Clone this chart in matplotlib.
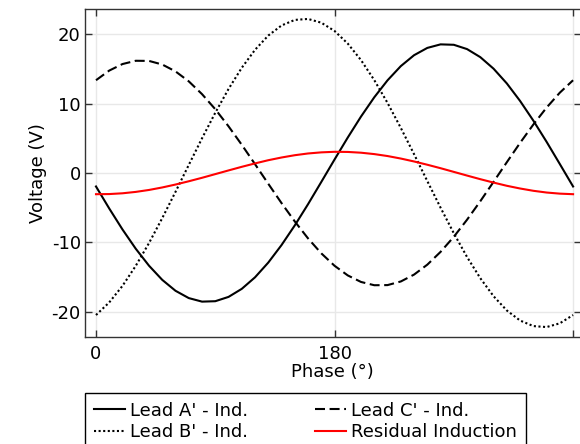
import matplotlib
matplotlib.use("Agg")
import matplotlib.pyplot as plt

plt.rcParams["axes.unicode_minus"] = False

# phase in degrees, read every 10 deg off the reference
phase = list(range(0, 361, 10))

lead_a = [-1.94, -5.11, -8.13, -10.90, -13.34, -15.38, -16.95, -18.00, -18.51,
          -18.45, -17.83, -16.67, -15.01, -12.89, -10.37, -7.54, -4.49, -1.29,
          1.94, 5.11, 8.13, 10.90, 13.34, 15.38, 16.95, 18.00, 18.51,
          18.45, 17.83, 16.67, 15.01, 12.89, 10.37, 7.54, 4.49, 1.29, -1.94]

lead_b = [-20.44, -18.62, -16.24, -13.36, -10.08, -6.49, -2.71, 1.16, 4.99,
          8.67, 12.09, 15.14, 17.73, 19.78, 21.23, 22.03, 22.17, 21.63,
          20.44, 18.62, 16.24, 13.36, 10.08, 6.49, 2.71, -1.16, -4.99,
          -8.67, -12.09, -15.14, -17.73, -19.78, -21.23, -22.03, -22.17, -21.63, -20.44]

lead_c = [13.35, 14.74, 15.68, 16.15, 16.13, 15.61, 14.62, 13.19, 11.35,
          9.18, 6.72, 4.06, 1.27, -1.55, -4.33, -6.97, -9.41, -11.56,
          -13.35, -14.74, -15.68, -16.15, -16.13, -15.61, -14.62, -13.19, -11.35,
          -9.18, -6.72, -4.06, -1.27, 1.55, 4.33, 6.97, 9.41, 11.56, 13.35]

residual = [-3.05, -3.03, -2.92, -2.72, -2.44, -2.08, -1.66, -1.19, -0.69,
            -0.16, 0.37, 0.89, 1.38, 1.84, 2.23, 2.56, 2.81, 2.97,
            3.05, 3.03, 2.92, 2.72, 2.44, 2.08, 1.66, 1.19, 0.69,
            0.16, -0.37, -0.89, -1.38, -1.84, -2.23, -2.56, -2.81, -2.97, -3.05]

xticks = [0, 180, 360]
xticklabels = ["0", "180", ""]
yticks = [-20, -10, 0, 10, 20]

fig = plt.figure(figsize=(5.8, 4.44), dpi=100)
ax = fig.add_axes([85 / 580, 1 - 337 / 444, 495.5 / 580, 328 / 444])

ax.plot(phase, lead_a, color="black", lw=1.5, label="Lead A' - Ind.")
ax.plot(phase, lead_b, color="black", lw=1.5, ls=(0, (1, 1.2)), label="Lead B' - Ind.")
ax.plot(phase, lead_c, color="black", lw=1.5, ls=(0, (4.8, 2.2)), label="Lead C' - Ind.")
ax.plot(phase, residual, color="red", lw=1.5, label="Residual Induction")

ax.set_xlim(-8.3, 365.6)
ax.set_ylim(-23.6, 23.6)
ax.set_xticks(xticks)
ax.set_xticklabels(xticklabels)
ax.set_yticks(yticks)
ax.grid(True, color="#e8e8e8", lw=1)
ax.set_axisbelow(True)
ax.tick_params(direction="in", top=True, right=True, length=5, width=1,
               color="#333333", labelsize=13)
ax.tick_params(axis="x", pad=6)
ax.tick_params(axis="y", pad=3)
for s in ax.spines.values():
    s.set_color("#333333")
    s.set_linewidth(1)
ax.spines["right"].set_visible(False)

ax.set_xlabel("Phase (°)", fontsize=13, labelpad=0)
ax.set_ylabel("Voltage (V)", fontsize=13, labelpad=3)

handles, labels = ax.get_legend_handles_labels()
leg = fig.legend(handles, labels,
                 loc="upper left", bbox_to_anchor=(85 / 580, 1 - 392.7 / 444),
                 ncol=2, fontsize=13, frameon=True, fancybox=False,
                 edgecolor="black", framealpha=1, borderaxespad=0,
                 borderpad=0.5, handlelength=1.72, handletextpad=0.28,
                 columnspacing=3.7, labelspacing=0.2)
leg.get_frame().set_linewidth(1)

fig.savefig("out.png", dpi=100)
